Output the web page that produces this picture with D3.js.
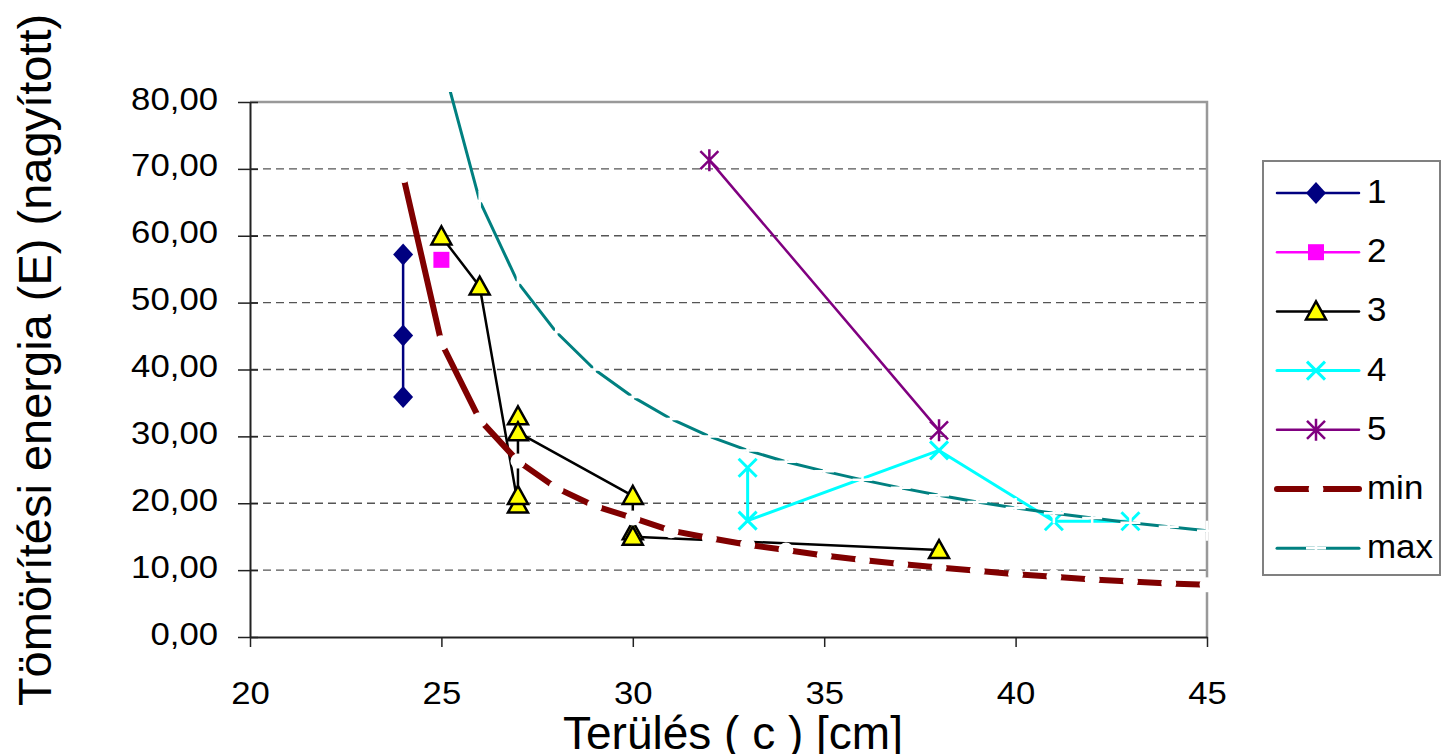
<!DOCTYPE html>
<html lang="hu">
<head>
<meta charset="UTF-8"/>
<title>Tömörítési energia</title>
<script src="https://d3js.org/d3.v7.min.js"></script>
<style>
    body { margin: 0; background: #fff; }
    svg text { font-family: "Liberation Sans", Arial, sans-serif; fill: #000; }
</style>
</head>
<body>
<div id="chart"></div>
<script>
    // values
    var xTicks = [20, 25, 30, 35, 40, 45];
    var yTicks = [0, 10, 20, 30, 40, 50, 60, 70, 80];
    var seriesNames = ["1", "2", "3", "4", "5", "min", "max"];

    var s1X = [24, 24, 24];
    var s1Y = [57.2, 45.1, 35.9];
    var s2X = [25];
    var s2Y = [56.4];
    var s3X = [25, 26, 27, 27, 27, 27, 30, 30, 30, 38];
    var s3Y = [59.9, 52.4, 19.8, 21.1, 33.0, 30.6, 21.1, 15.8, 15.0, 13.0];
    var s4X = [33, 33, 38, 41, 43];
    var s4Y = [25.3, 17.4, 27.9, 17.3, 17.3];
    var s5X = [32, 38];
    var s5Y = [71.3, 30.9];
    var minX = [24, 25, 26, 27, 28, 29, 30, 31, 32, 33, 34, 35, 36, 37, 38, 39, 40, 41, 42, 43, 44, 45];
    var minY = [69.0, 44.0, 32.5, 26.3, 22.3, 19.6, 17.8, 15.9, 14.8, 13.8, 13.0, 12.2, 11.5, 10.9, 10.4, 9.9, 9.4, 9.0, 8.6, 8.3, 8.0, 7.8];
    var maxX = [25, 26, 27, 28, 29, 30, 31, 32, 33, 34, 35, 36, 37, 38, 39, 40, 41, 42, 43, 44, 45];
    var maxY = [86.5, 65.2, 53.0, 45.6, 40.0, 35.9, 32.6, 30.0, 27.9, 26.2, 24.8, 23.5, 22.3, 21.2, 20.2, 19.3, 18.5, 17.8, 17.1, 16.5, 15.9];

    var width = 1441;
    var height = 754;
    var plotLeft = 250, plotRight = 1207, plotTop = 102, plotBottom = 637;

    // marker shapes
    var shapes = {
        diamond: "M0,-11L10,0L0,11L-10,0Z",
        square: "M-8,-8h16v16h-16Z",
        triangle: "M0,-10L10,8L-10,8Z",
        cross: "M-9,-9L9,9M-9,9L9,-9",
        star: "M-9,-9L9,9M-9,9L9,-9M0,-11L0,11",
        circle: "M-7.5,0a7.5,7.5 0 1,0 15,0a7.5,7.5 0 1,0 -15,0",
        plus: "M-10,0L10,0M0,-10L0,10"
    };

    function pairs(xs, ys) {
        return xs.map(function(x, i) { return [x, ys[i]]; });
    }

    var series = [
        { name: seriesNames[0], data: pairs(s1X, s1Y), color: "#000080", lw: 2.5, shape: "diamond", fill: "#000080", stroke: "none", sw: 0 },
        { name: seriesNames[1], data: pairs(s2X, s2Y), color: "#ff00ff", lw: 2.5, shape: "square", fill: "#ff00ff", stroke: "none", sw: 0 },
        { name: seriesNames[2], data: pairs(s3X, s3Y), color: "#000000", lw: 2.5, shape: "triangle", fill: "#ffff00", stroke: "#000", sw: 2.5 },
        { name: seriesNames[3], data: pairs(s4X, s4Y), color: "#00ffff", lw: 3, shape: "cross", fill: "none", stroke: "#00ffff", sw: 3 },
        { name: seriesNames[4], data: pairs(s5X, s5Y), color: "#800080", lw: 2.5, shape: "star", fill: "none", stroke: "#800080", sw: 2.5 },
        { name: seriesNames[5], data: pairs(minX, minY), color: "#800000", lw: 6, shape: "circle", fill: "#fff", stroke: "none", sw: 0 },
        { name: seriesNames[6], data: pairs(maxX, maxY), color: "#008080", lw: 3, shape: "plus", fill: "none", stroke: "#fff", sw: 2.5 }
    ];

    var svg = d3.select("#chart")
        .append("svg")
        .attr("width", width)
        .attr("height", height);

    var xScale = d3.scaleLinear().domain([20, 45]).range([plotLeft, plotRight]);
    var yScale = d3.scaleLinear().domain([0, 80]).range([plotBottom, plotTop]);

    // dashed gridlines
    svg.selectAll("line.grid")
        .data(yTicks.filter(function(d) { return d > 0 && d < 80; }))
        .enter()
        .append("line")
        .attr("class", "grid")
        .attr("x1", plotLeft)
        .attr("x2", plotRight)
        .attr("y1", function(d) { return yScale(d); })
        .attr("y2", function(d) { return yScale(d); })
        .attr("stroke", "#555")
        .attr("stroke-width", 1.3)
        .attr("stroke-dasharray", "8,5");

    // plot frame (top and right)
    svg.append("path")
        .attr("d", "M" + plotLeft + "," + plotTop + "H" + plotRight + "V" + plotBottom)
        .attr("fill", "none")
        .attr("stroke", "#999")
        .attr("stroke-width", 2.5);

    // Y axis
    var yAxis = d3.axisLeft(yScale)
        .tickValues(yTicks)
        .tickSize(12)
        .tickSizeOuter(0)
        .tickFormat(function(d) { return d.toFixed(2).replace(".", ","); });
    var gy = svg.append("g")
        .attr("transform", "translate(" + plotLeft + ",0)")
        .call(yAxis);
    gy.select(".domain").attr("stroke", "#222").attr("stroke-width", 2);
    gy.selectAll(".tick line").attr("x1", 8).attr("stroke", "#222").attr("stroke-width", 1.5);
    gy.selectAll(".tick text")
        .attr("x", -32 / 1.12)
        .attr("dy", 7)
        .attr("transform", "scale(1.12,1)")
        .attr("font-size", "31px")
        .attr("fill", "#000");

    // X axis
    var xAxis = d3.axisBottom(xScale)
        .tickValues(xTicks)
        .tickSize(10)
        .tickSizeOuter(0);
    var gx = svg.append("g")
        .attr("transform", "translate(0," + plotBottom + ")")
        .call(xAxis);
    gx.select(".domain").attr("stroke", "#222").attr("stroke-width", 2);
    gx.selectAll(".tick line").attr("stroke", "#222").attr("stroke-width", 1.5);
    gx.selectAll(".tick text")
        .attr("y", 67)
        .attr("dy", 0)
        .attr("transform", "scale(1.12,1)")
        .attr("font-size", "31px")
        .attr("fill", "#000");

    // clip so the max curve stops just above the plot
    svg.append("clipPath")
        .attr("id", "clip")
        .append("rect")
        .attr("x", 0)
        .attr("y", plotTop - 10)
        .attr("width", width)
        .attr("height", height);

    var line = d3.line()
        .x(function(d) { return xScale(d[0]); })
        .y(function(d) { return yScale(d[1]); });

    var plot = svg.append("g").attr("clip-path", "url(#clip)");

    series.forEach(function(s) {
        var g = plot.append("g");
        g.append("path")
            .datum(s.data)
            .attr("d", line)
            .attr("fill", "none")
            .attr("stroke", s.color)
            .attr("stroke-width", s.lw)
            .attr("stroke-linejoin", "round")
            .attr("stroke-linecap", "round");
        g.selectAll("path.marker")
            .data(s.data)
            .enter()
            .append("path")
            .attr("class", "marker")
            .attr("d", shapes[s.shape])
            .attr("transform", function(d) { return "translate(" + xScale(d[0]) + "," + yScale(d[1]) + ")"; })
            .attr("fill", s.fill)
            .attr("stroke", s.stroke)
            .attr("stroke-width", s.sw)
            .attr("stroke-linejoin", "miter");
    });

    // legend
    svg.append("rect")
        .attr("x", 1263)
        .attr("y", 161)
        .attr("width", 177)
        .attr("height", 414)
        .attr("fill", "#fff")
        .attr("stroke", "#808080")
        .attr("stroke-width", 2);

    var leg = svg.selectAll("g.leg")
        .data(series)
        .enter()
        .append("g")
        .attr("class", "leg")
        .attr("transform", function(d, i) { return "translate(0," + (193 + i * 59.2) + ")"; });

    leg.append("line")
        .attr("x1", 1277)
        .attr("x2", 1359)
        .attr("stroke", function(d) { return d.color; })
        .attr("stroke-width", function(d) { return d.lw; })
        .attr("stroke-linecap", "round");

    leg.append("path")
        .attr("d", function(d) { return shapes[d.shape]; })
        .attr("transform", "translate(1316,0)")
        .attr("fill", function(d) { return d.fill; })
        .attr("stroke", function(d) { return d.stroke; })
        .attr("stroke-width", function(d) { return d.sw; });

    leg.append("text")
        .attr("x", 1367 / 1.06)
        .attr("y", 10)
        .attr("transform", "scale(1.06,1)")
        .attr("font-size", "33px")
        .text(function(d) { return d.name; });

    // axis titles
    svg.append("text")
        .attr("text-anchor", "middle")
        .attr("x", 733)
        .attr("y", 749)
        .attr("font-size", "46px")
        .text("Terülés ( c ) [cm]");

    svg.append("text")
        .attr("text-anchor", "middle")
        .attr("transform", "translate(51,360)rotate(-90)")
        .attr("font-size", "47px")
        .text("Tömörítési energia (E) (nagyított)");
</script>
</body>
</html>
